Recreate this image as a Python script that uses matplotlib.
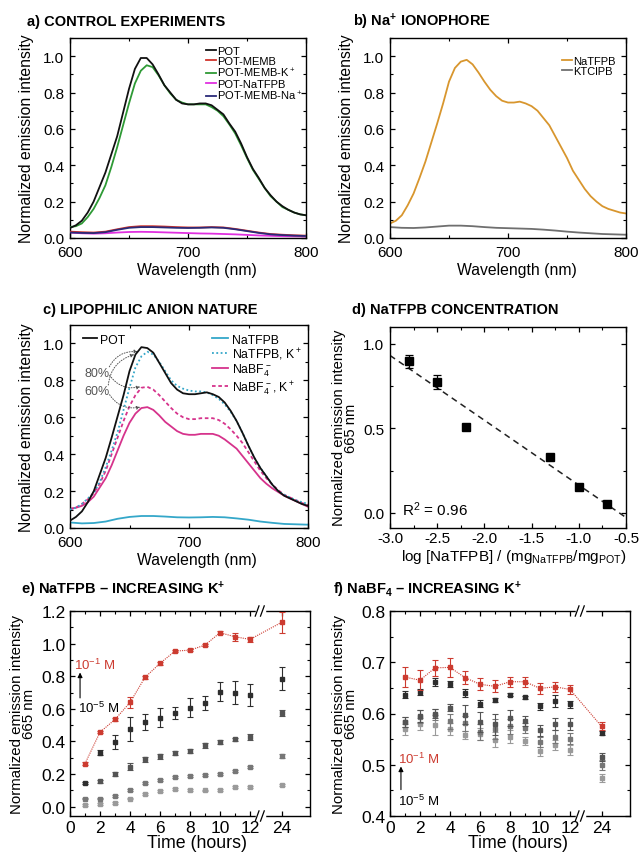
import numpy as np
import matplotlib
matplotlib.use("Agg")
import matplotlib.pyplot as plt
from matplotlib.ticker import MultipleLocator, FixedLocator, NullFormatter

plt.rcParams['font.family'] = ['Liberation Sans', 'DejaVu Sans']
plt.rcParams['mathtext.fontset'] = 'custom'
plt.rcParams['mathtext.rm'] = 'Liberation Sans'
plt.rcParams['mathtext.bf'] = 'Liberation Sans:bold'
plt.rcParams['mathtext.default'] = 'regular'
plt.rcParams['axes.unicode_minus'] = False

# ---- data ----
wl5 = np.arange(600, 805, 5)    # 5 nm grid
wl10 = np.arange(600, 810, 10)  # 10 nm grid

# a) control experiments
a_pot = [0.055, 0.07, 0.095, 0.14, 0.20, 0.28, 0.36, 0.46, 0.56, 0.69, 0.82, 0.93, 0.99, 0.99, 0.955,
         0.90, 0.84, 0.80, 0.76, 0.74, 0.735, 0.735, 0.74, 0.74, 0.73, 0.705, 0.68, 0.63, 0.585, 0.52,
         0.445, 0.38, 0.33, 0.275, 0.235, 0.20, 0.175, 0.155, 0.14, 0.13, 0.125]
a_memb_k = [0.06, 0.065, 0.08, 0.115, 0.16, 0.22, 0.29, 0.39, 0.50, 0.62, 0.74, 0.85, 0.92, 0.95, 0.94,
            0.895, 0.84, 0.795, 0.76, 0.745, 0.735, 0.735, 0.735, 0.735, 0.72, 0.70, 0.67, 0.625, 0.575, 0.51,
            0.44, 0.375, 0.325, 0.275, 0.23, 0.20, 0.17, 0.155, 0.14, 0.13, 0.125]
a_memb = [0.035, 0.032, 0.03, 0.035, 0.048, 0.06, 0.065, 0.065, 0.063, 0.06, 0.058, 0.058, 0.06, 0.058,
          0.05, 0.04, 0.03, 0.022, 0.018, 0.015, 0.013]
a_memb_na = [0.03, 0.028, 0.027, 0.032, 0.045, 0.056, 0.06, 0.06, 0.058, 0.056, 0.055, 0.056, 0.058, 0.056,
             0.048, 0.038, 0.028, 0.02, 0.016, 0.013, 0.011]
a_natfpb = [0.03, 0.026, 0.024, 0.026, 0.03, 0.033, 0.034, 0.033, 0.031, 0.029, 0.027, 0.025, 0.024, 0.022,
            0.02, 0.017, 0.014, 0.012, 0.01, 0.009, 0.008]

# b) Na+ ionophore
b_natfpb = [0.08, 0.095, 0.125, 0.18, 0.245, 0.33, 0.42, 0.525, 0.63, 0.74, 0.86, 0.935, 0.97, 0.98, 0.955,
            0.91, 0.86, 0.815, 0.78, 0.755, 0.745, 0.745, 0.75, 0.74, 0.725, 0.70, 0.66, 0.62, 0.56, 0.50,
            0.44, 0.37, 0.32, 0.27, 0.23, 0.20, 0.175, 0.16, 0.15, 0.14, 0.135]
b_ktclpb = [0.06, 0.056, 0.055, 0.058, 0.063, 0.068, 0.068, 0.065, 0.06, 0.056, 0.054, 0.052, 0.05, 0.046,
            0.041, 0.035, 0.03, 0.026, 0.022, 0.02, 0.018]

# c) lipophilic anion nature
c_pot = [0.04, 0.06, 0.09, 0.14, 0.20, 0.29, 0.38, 0.49, 0.605, 0.72, 0.85, 0.94, 0.98, 0.975, 0.95,
         0.895, 0.84, 0.785, 0.75, 0.73, 0.725, 0.725, 0.73, 0.735, 0.725, 0.71, 0.68, 0.635, 0.58, 0.515,
         0.445, 0.38, 0.325, 0.28, 0.235, 0.20, 0.175, 0.16, 0.145, 0.13, 0.12]
c_natfpb_k = [0.10, 0.11, 0.13, 0.16, 0.19, 0.25, 0.33, 0.42, 0.52, 0.64, 0.76, 0.87, 0.93, 0.955, 0.94,
              0.90, 0.85, 0.80, 0.77, 0.755, 0.745, 0.74, 0.74, 0.735, 0.72, 0.70, 0.67, 0.63, 0.58, 0.515,
              0.445, 0.38, 0.325, 0.28, 0.235, 0.20, 0.18, 0.165, 0.15, 0.14, 0.13]
c_nabf4 = [0.105, 0.11, 0.12, 0.14, 0.17, 0.22, 0.27, 0.34, 0.42, 0.50, 0.57, 0.62, 0.65, 0.655, 0.64,
           0.61, 0.575, 0.55, 0.525, 0.51, 0.505, 0.505, 0.51, 0.51, 0.51, 0.50, 0.48, 0.455, 0.43, 0.39,
           0.35, 0.31, 0.27, 0.24, 0.215, 0.195, 0.175, 0.16, 0.145, 0.13, 0.115]
c_nabf4_k = [0.10, 0.11, 0.13, 0.155, 0.19, 0.24, 0.31, 0.40, 0.49, 0.58, 0.66, 0.72, 0.76, 0.765, 0.75,
             0.72, 0.685, 0.65, 0.62, 0.60, 0.59, 0.59, 0.595, 0.595, 0.595, 0.585, 0.565, 0.535, 0.50, 0.46,
             0.41, 0.36, 0.31, 0.27, 0.235, 0.205, 0.18, 0.165, 0.15, 0.135, 0.125]
c_natfpb = [0.03, 0.025, 0.027, 0.035, 0.05, 0.06, 0.065, 0.065, 0.062, 0.058, 0.057, 0.058, 0.06, 0.058,
            0.052, 0.045, 0.035, 0.028, 0.022, 0.02, 0.018]

# d) NaTFPB concentration
d_logc = [-2.8, -2.5, -2.2, -1.3, -1.0, -0.7]
d_int = [0.897, 0.773, 0.507, 0.33, 0.154, 0.05]
d_err = [0.04, 0.04, 0.015, 0.015, 0.012, 0.01]

# e/f) time series, 10^-1 ... 10^-5 M K+
hours = [1, 2, 3, 4, 5, 6, 7, 8, 9, 10, 11, 12, 24]
e_vals = [
    [0.264, 0.457, 0.535, 0.639, 0.793, 0.879, 0.954, 0.96, 0.991, 1.067, 1.042, 1.026, 1.13],
    [0.145, 0.332, 0.397, 0.475, 0.52, 0.545, 0.575, 0.608, 0.633, 0.705, 0.698, 0.684, 0.786],
    [np.nan, 0.156, 0.20, 0.245, 0.29, 0.31, 0.332, 0.342, 0.377, 0.397, 0.414, 0.426, 0.575],
    [0.05, 0.05, 0.065, 0.10, 0.145, 0.162, 0.182, 0.186, 0.195, 0.199, 0.221, 0.244, 0.311],
    [0.01, 0.015, 0.022, 0.05, 0.078, 0.098, 0.108, 0.104, 0.10, 0.104, 0.121, 0.121, 0.135],
]
e_errs = [
    [0.008, 0.008, 0.008, 0.035, 0.008, 0.008, 0.008, 0.008, 0.008, 0.01, 0.025, 0.015, 0.065],
    [0.008, 0.017, 0.045, 0.075, 0.05, 0.058, 0.035, 0.056, 0.043, 0.057, 0.07, 0.067, 0.073],
    [0.0, 0.008, 0.01, 0.02, 0.015, 0.015, 0.012, 0.012, 0.015, 0.015, 0.01, 0.02, 0.02],
    [0.005, 0.005, 0.005, 0.006, 0.006, 0.006, 0.006, 0.006, 0.006, 0.006, 0.006, 0.006, 0.01],
    [0.005, 0.005, 0.005, 0.005, 0.005, 0.005, 0.005, 0.005, 0.005, 0.005, 0.005, 0.005, 0.006],
]
f_vals = [
    [0.671, 0.665, 0.689, 0.69, 0.670, 0.657, 0.653, 0.662, 0.662, 0.649, 0.652, 0.647, 0.575],
    [0.637, 0.642, 0.662, 0.658, 0.640, 0.619, 0.626, 0.637, 0.632, 0.614, 0.624, 0.618, 0.562],
    [0.584, 0.595, 0.600, 0.611, 0.598, 0.583, 0.579, 0.591, 0.586, 0.567, 0.579, 0.579, 0.515],
    [0.583, 0.594, 0.598, 0.585, 0.581, 0.564, 0.570, 0.575, 0.572, 0.544, 0.555, 0.551, 0.500],
    [0.569, 0.580, 0.578, 0.570, 0.558, 0.560, 0.549, 0.555, 0.547, 0.526, 0.539, 0.529, 0.474],
]
f_errs = [
    [0.019, 0.02, 0.015, 0.018, 0.013, 0.012, 0.012, 0.01, 0.01, 0.01, 0.01, 0.008, 0.008],
    [0.006, 0.005, 0.008, 0.006, 0.007, 0.007, 0.004, 0.003, 0.003, 0.007, 0.012, 0.007, 0.004],
    [0.01, 0.012, 0.008, 0.007, 0.018, 0.02, 0.02, 0.015, 0.01, 0.01, 0.012, 0.012, 0.008],
    [0.01, 0.012, 0.01, 0.015, 0.015, 0.016, 0.02, 0.015, 0.01, 0.01, 0.012, 0.01, 0.01],
    [0.01, 0.012, 0.02, 0.012, 0.008, 0.012, 0.015, 0.012, 0.008, 0.008, 0.01, 0.01, 0.008],
]
k_colors = ['#cc3b30', '#2e2e2e', '#545454', '#777777', '#9a9a9a']

W, H = 641, 854
fig = plt.figure(figsize=(W / 100, H / 100), dpi=100)


def px_axes(l, t, r, b):
    return fig.add_axes([l / W, 1 - b / H, (r - l) / W, (b - t) / H])


def style(ax, size=11, xpad=5, ypad=4):
    ax.tick_params(which='both', direction='in', top=True, right=True, labelsize=size)
    ax.tick_params(axis='x', pad=xpad)
    ax.tick_params(axis='y', pad=ypad)
    ax.tick_params(which='major', length=3.5, width=0.9)
    ax.tick_params(which='minor', length=2.2, width=0.8)
    for s in ax.spines.values():
        s.set_linewidth(1.0)


def spectrum_axes(ax):
    ax.set_xlim(600, 800)
    ax.set_ylim(0, 1.1)
    ax.xaxis.set_major_locator(MultipleLocator(100))
    ax.xaxis.set_minor_locator(MultipleLocator(50))
    ax.yaxis.set_major_locator(MultipleLocator(0.2))
    ax.yaxis.set_minor_locator(MultipleLocator(0.1))
    ax.yaxis.set_major_formatter(plt.FormatStrFormatter('%.1f'))
    style(ax)


def title(x, y, s):
    fig.text(x / W, 1 - y / H, s, fontsize=10.5, fontweight='bold', ha='left', va='center')


def label(x, y, s, rot=0, size=11.3, **kw):
    fig.text(x / W, 1 - y / H, s, fontsize=size, ha='center', va='center', rotation=rot, **kw)


lw = 1.3
small_leg = dict(frameon=False, fontsize=8.0, handlelength=0.9, handletextpad=0.15,
                 labelspacing=0.0, borderpad=0.2)

# ---- a) ----
ax = px_axes(70, 39, 306, 239)
ax.plot(wl5, a_pot, color='#111111', lw=lw, label='POT', zorder=5)
ax.plot(wl10, a_memb, color='#d0332b', lw=lw, label='POT-MEMB', zorder=3)
ax.plot(wl5, a_memb_k, color='#2e9a35', lw=lw, label='POT-MEMB-K$^+$', zorder=4)
ax.plot(wl10, a_natfpb, color='#e030e0', lw=lw, label='POT-NaTFPB', zorder=2)
ax.plot(wl10, a_memb_na, color='#2a2a78', lw=lw, label='POT-MEMB-Na$^+$', zorder=3)
spectrum_axes(ax)
ax.legend(loc='upper right', bbox_to_anchor=(1.02, 1.0), **small_leg)
title(27, 22, 'a) CONTROL EXPERIMENTS')
label(27, 139, 'Normalized emission intensity', rot=90)
label(197, 271, 'Wavelength (nm)')

# ---- b) ----
ax = px_axes(390, 39, 626, 239)
ax.plot(wl5, b_natfpb, color='#d8962e', lw=lw, label='NaTFPB')
ax.plot(wl10, b_ktclpb, color='#6f6f6f', lw=lw, label='KTClPB')
spectrum_axes(ax)
ax.legend(loc='upper right', bbox_to_anchor=(0.99, 0.95), **small_leg)
title(353, 22, r'b) Na$^\mathbf{+}$ IONOPHORE')
label(347, 139, 'Normalized emission intensity', rot=90)
label(517, 271, 'Wavelength (nm)')

# ---- c) ----
ax = px_axes(70, 326, 308, 529)
l_pot, = ax.plot(wl5, c_pot, color='#111111', lw=lw, label='POT', zorder=5)
l1, = ax.plot(wl10, c_natfpb, color='#34a7c9', lw=lw, label='NaTFPB')
l2, = ax.plot(wl5, c_natfpb_k, color='#34a7c9', lw=lw, ls=(0, (1, 1.4)), label='NaTFPB, K$^+$', zorder=4)
l3, = ax.plot(wl5, c_nabf4, color='#d6338c', lw=lw, label='NaBF$_4^-$')
l4, = ax.plot(wl5, c_nabf4_k, color='#d6338c', lw=lw, ls=(0, (2, 1.5)), label='NaBF$_4^-$, K$^+$')
spectrum_axes(ax)
leg1 = ax.legend(handles=[l_pot], loc='upper left', bbox_to_anchor=(0.02, 1.0), frameon=False,
                 fontsize=8.8, handlelength=1.1, handletextpad=0.3, borderpad=0.2)
ax.add_artist(leg1)
ax.legend(handles=[l1, l2, l3, l4], loc='upper right', bbox_to_anchor=(1.01, 1.0), frameon=False,
          fontsize=8.8, handlelength=1.3, handletextpad=0.3, labelspacing=0.0, borderpad=0.2)
ax.text(622.5, 0.84, '80%', color='#555555', fontsize=9, ha='center', va='center')
ax.text(622.5, 0.745, '60%', color='#555555', fontsize=9, ha='center', va='center')
arr = dict(arrowstyle='-|>', color='#555555', lw=0.7, ls=':', mutation_scale=5, shrinkA=2, shrinkB=0)
ax.annotate('', xy=(657, 0.955), xytext=(632, 0.86), arrowprops=dict(arr, connectionstyle='arc3,rad=-0.35'))
ax.annotate('', xy=(659, 0.765), xytext=(632, 0.84), arrowprops=dict(arr, connectionstyle='arc3,rad=0.35'))
ax.annotate('', xy=(654, 0.94), xytext=(632, 0.76), arrowprops=dict(arr, connectionstyle='arc3,rad=-0.35'))
ax.annotate('', xy=(659, 0.655), xytext=(632, 0.735), arrowprops=dict(arr, connectionstyle='arc3,rad=0.35'))
title(43, 310, 'c) LIPOPHILIC ANION NATURE')
label(27, 428, 'Normalized emission intensity', rot=90)
label(197, 561, 'Wavelength (nm)')

# ---- d) ----
ax = px_axes(390, 328, 626, 529)
ax.errorbar(d_logc, d_int, yerr=d_err, fmt='s', color='black', ms=5.5, capsize=3, elinewidth=0.9,
            capthick=0.9, zorder=3)
fit = np.polyfit(d_logc, d_int, 1)
xfit = np.array([-3.0, -0.5])
ax.plot(xfit, np.polyval(fit, xfit), color='#222222', ls=(0, (4, 3)), lw=1.1)
ax.set_xlim(-3.0, -0.5)
ax.set_ylim(-0.09, 1.1)
ax.xaxis.set_major_locator(MultipleLocator(0.5))
ax.xaxis.set_minor_locator(MultipleLocator(0.25))
ax.yaxis.set_major_locator(MultipleLocator(0.5))
ax.yaxis.set_minor_locator(MultipleLocator(0.25))
ax.xaxis.set_major_formatter(plt.FormatStrFormatter('%.1f'))
ax.yaxis.set_major_formatter(plt.FormatStrFormatter('%.1f'))
style(ax, xpad=2.5)
ax.text(0.05, 0.05, 'R$^2$ = 0.96', transform=ax.transAxes, fontsize=11, ha='left', va='bottom')
title(352, 310, 'd) NaTFPB CONCENTRATION')
label(345, 428, 'Normalized emission intensity\n665 nm', rot=90, size=10.6, linespacing=0.9)
label(514, 557, r'log [NaTFPB] / (mg$_{\mathrm{NaTFPB}}$/mg$_{\mathrm{POT}}$)', size=11)


# ---- e/f) broken time axis ----
def fwd(x):
    x = np.asarray(x, dtype=float)
    return np.where(x <= 13, x, 13 + (x - 13) * 0.1)


def inv(y):
    y = np.asarray(y, dtype=float)
    return np.where(y <= 13, y, 13 + (y - 13) / 0.1)


def time_axes(ax, vals, errs):
    for i, (v, e) in enumerate(zip(vals, errs)):
        ax.errorbar(hours, v, yerr=e, fmt='s', color=k_colors[i], ms=3.2, capsize=2, elinewidth=0.8,
                    capthick=0.8, zorder=6 - i)
    ax.plot(hours, vals[0], color=k_colors[0], ls=(0, (1, 1)), lw=0.8, zorder=6)
    ax.set_xscale('function', functions=(fwd, inv))
    ax.set_xlim(0, 43)
    ax.xaxis.set_major_locator(FixedLocator([0, 2, 4, 6, 8, 10, 12, 24]))
    ax.xaxis.set_minor_locator(FixedLocator([1, 3, 5, 7, 9, 11]))
    ax.xaxis.set_major_formatter(plt.FixedFormatter(['0', '2', '4', '6', '8', '10', '12', '24']))
    ax.xaxis.set_minor_formatter(NullFormatter())
    ax.yaxis.set_major_formatter(plt.FormatStrFormatter('%.1f'))
    style(ax, size=12.5, xpad=3, ypad=3)
    tr = ax.get_xaxis_transform()
    for yy in (0, 1):
        ax.plot([12.45, 12.95], [yy, yy], color='white', lw=2.5, transform=tr, clip_on=False, zorder=10)
        for x0 in (12.35, 12.7):
            ax.plot([x0, x0 + 0.25], [yy - 0.025, yy + 0.025], color='black', lw=0.9, transform=tr,
                    clip_on=False, zorder=11)


ax = px_axes(70, 612, 310, 817)
time_axes(ax, e_vals, e_errs)
ax.set_ylim(-0.057, 1.2)
ax.yaxis.set_major_locator(MultipleLocator(0.2))
ax.yaxis.set_minor_locator(MultipleLocator(0.1))
ax.text(0.3, 0.87, '10$^{-1}$ M', color=k_colors[0], fontsize=9.5, ha='left', va='center')
ax.text(0.5, 0.61, '10$^{-5}$ M', color='black', fontsize=9.5, ha='left', va='center')
ax.annotate('', xy=(0.67, 0.84), xytext=(0.67, 0.65),
            arrowprops=dict(arrowstyle='-|>', color='black', lw=0.8, mutation_scale=7))
title(21, 590, r'e) NaTFPB – INCREASING K$^\mathbf{+}$')
label(23, 714, 'Normalized emission intensity\n665 nm', rot=90, size=10.8, linespacing=0.9)
label(197, 844, 'Time (hours)', size=12.8)

ax = px_axes(390, 612, 630, 817)
time_axes(ax, f_vals, f_errs)
ax.set_ylim(0.4, 0.8)
ax.yaxis.set_major_locator(MultipleLocator(0.1))
ax.yaxis.set_minor_locator(MultipleLocator(0.05))
ax.text(0.5, 0.513, '10$^{-1}$ M', color=k_colors[0], fontsize=9.5, ha='left', va='center')
ax.text(0.5, 0.431, '10$^{-5}$ M', color='black', fontsize=9.5, ha='left', va='center')
ax.annotate('', xy=(0.73, 0.502), xytext=(0.73, 0.446),
            arrowprops=dict(arrowstyle='-|>', color='black', lw=0.8, mutation_scale=7))
title(333, 590, r'f) NaBF$_\mathbf{4}$ – INCREASING K$^\mathbf{+}$')
label(345, 714, 'Normalized emission intensity\n665 nm', rot=90, size=10.8, linespacing=0.9)
label(518, 844, 'Time (hours)', size=12.8)

fig.savefig('out.png', dpi=100)
